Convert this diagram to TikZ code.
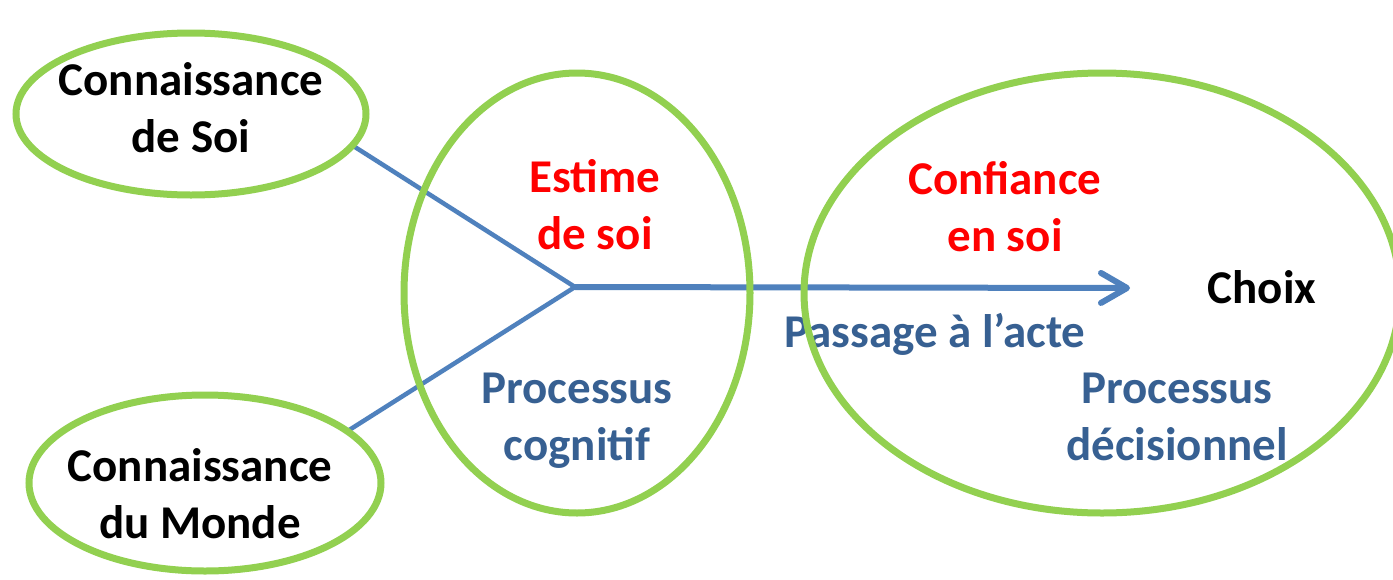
\documentclass[tikz,border=0pt]{standalone}
\usepackage{fontspec}
\setmainfont{Carlito}
\usetikzlibrary{shapes.geometric,arrows.meta}
\pgfdeclarelayer{bg}
\pgfsetlayers{bg,main}
\definecolor{ringgreen}{HTML}{92D050}
\definecolor{linkblue}{HTML}{4F81BD}
\definecolor{txtblue}{HTML}{376092}
\definecolor{txtred}{HTML}{FF0000}
\tikzset{
  ring/.style={ellipse,draw=ringgreen,line width=7pt,inner sep=0pt,outer sep=0pt},
  lbl/.style={anchor=base,align=center,inner sep=0pt,
    font=\fontsize{47}{57}\selectfont\bfseries},
  link/.style={draw=linkblue,line width=4.5pt},
  mainarrow/.style={draw=linkblue,line width=6pt,
    -{Straight Barb[length=26pt,width=30pt,round]}}
}
\begin{document}
\begin{tikzpicture}[x=1pt,y=-1pt]
\useasboundingbox (0,0) rectangle (1393,579);
% ellipses
\node[ring,minimum width=350pt,minimum height=162pt] (soi) at (191,114) {};
\node[ring,minimum width=352pt,minimum height=176pt] (monde) at (205,483) {};
\node[ring,minimum width=346pt,minimum height=440pt] (cog) at (577,293) {};
\node[ring,minimum width=596pt,minimum height=440pt] (dec) at (1102,293) {};
\begin{pgfonlayer}{bg}
\fill[white] (0,0) rectangle (1393,579);
\coordinate (j) at (575,287);
\coordinate (tip) at (1130,288);
\draw[link] (soi.-11) -- (j);
\draw[link] (monde.20) -- (j);
\draw[mainarrow] (j) -- (tip);
% texts (base = baseline of the last line)
\node[lbl] (t1) at (191,152) {Connaissance\\de Soi};
\node[lbl] (t2) at (200,538) {Connaissance\\du Monde};
\node[lbl,text=txtred] (t3) at (595,249) {Estime\\de soi};
\node[lbl,text=txtblue] (t4) at (577,460) {Processus\\cognitif};
\node[lbl,text=txtred] (t5) at (1005,251) {Confiance\\en soi};
\node[lbl] (t6) at (1262,303) {Choix};
\node[lbl,text=txtblue] (t7) at (935,347) {Passage à l’acte};
\node[lbl,text=txtblue] (t8) at (1177,460) {Processus\\décisionnel};
\end{pgfonlayer}
\end{tikzpicture}
\end{document}
